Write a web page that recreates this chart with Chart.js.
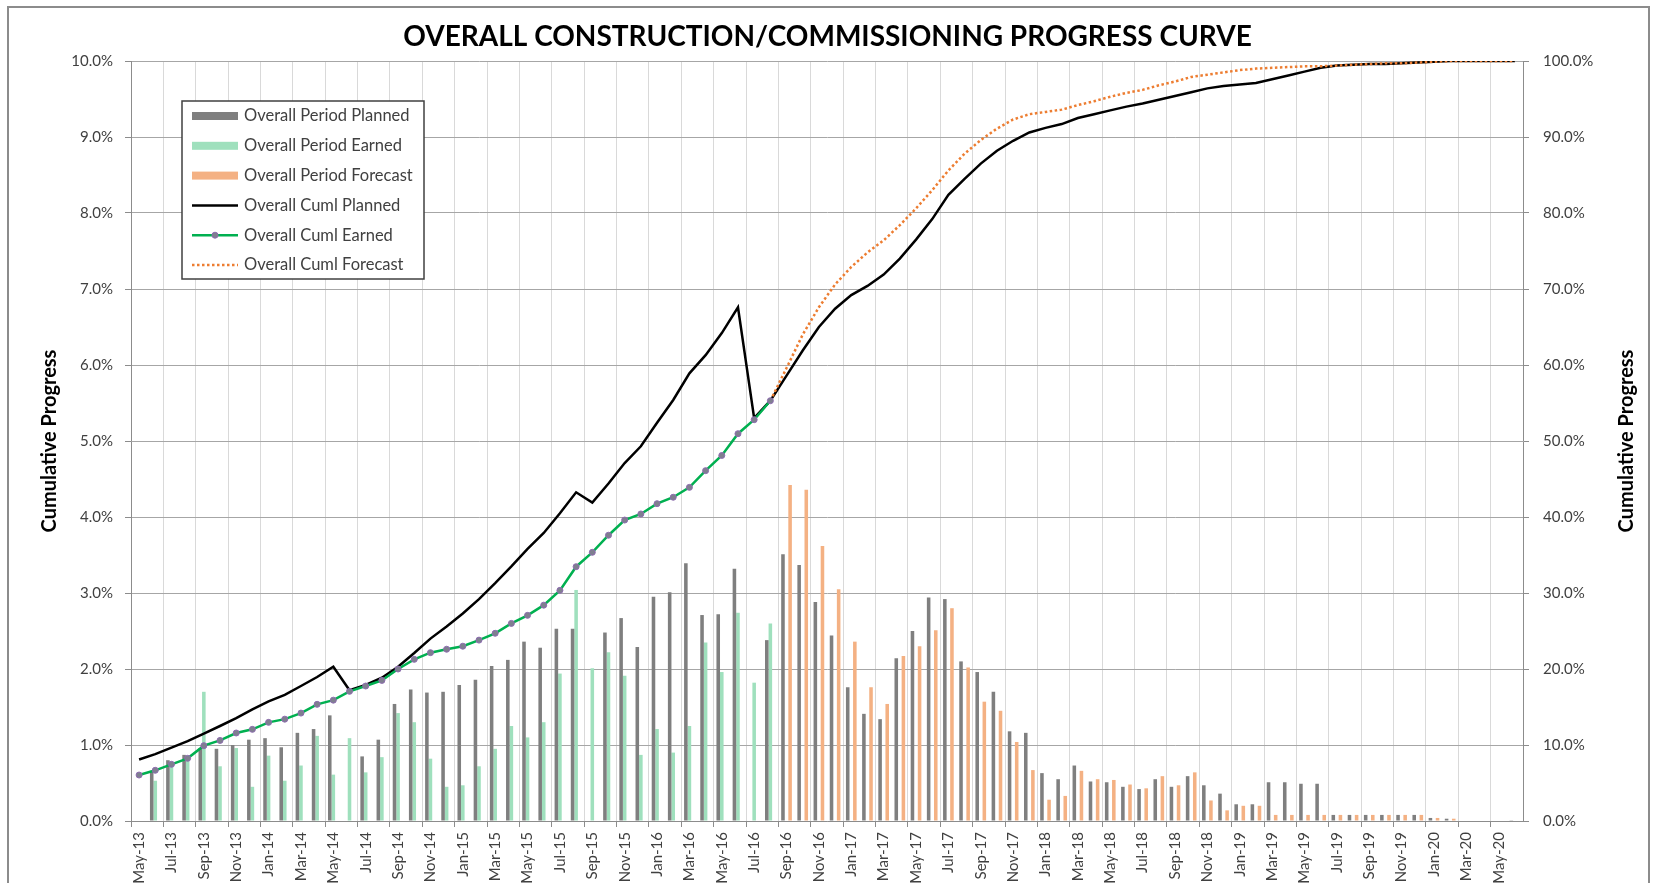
<!DOCTYPE html>
<html>
<head>
<meta charset="utf-8">
<title>Overall Construction/Commissioning Progress Curve</title>
<script src="https://cdn.jsdelivr.net/npm/chart.js@4.4.1/dist/chart.umd.min.js"></script>
<style>
  html, body { margin: 0; padding: 0; background: #fff; }
  #wrap { width: 1655px; height: 883px; }
</style>
</head>
<body>
<div id="wrap"><canvas id="progressChart" width="1655" height="883"></canvas></div>
<script>
// Months, May-13 .. Jun-20
const months = [
  'May-13', 'Jun-13', 'Jul-13', 'Aug-13', 'Sep-13', 'Oct-13', 'Nov-13', 'Dec-13',
  'Jan-14', 'Feb-14', 'Mar-14', 'Apr-14', 'May-14', 'Jun-14', 'Jul-14', 'Aug-14', 'Sep-14', 'Oct-14', 'Nov-14', 'Dec-14',
  'Jan-15', 'Feb-15', 'Mar-15', 'Apr-15', 'May-15', 'Jun-15', 'Jul-15', 'Aug-15', 'Sep-15', 'Oct-15', 'Nov-15', 'Dec-15',
  'Jan-16', 'Feb-16', 'Mar-16', 'Apr-16', 'May-16', 'Jun-16', 'Jul-16', 'Aug-16', 'Sep-16', 'Oct-16', 'Nov-16', 'Dec-16',
  'Jan-17', 'Feb-17', 'Mar-17', 'Apr-17', 'May-17', 'Jun-17', 'Jul-17', 'Aug-17', 'Sep-17', 'Oct-17', 'Nov-17', 'Dec-17',
  'Jan-18', 'Feb-18', 'Mar-18', 'Apr-18', 'May-18', 'Jun-18', 'Jul-18', 'Aug-18', 'Sep-18', 'Oct-18', 'Nov-18', 'Dec-18',
  'Jan-19', 'Feb-19', 'Mar-19', 'Apr-19', 'May-19', 'Jun-19', 'Jul-19', 'Aug-19', 'Sep-19', 'Oct-19', 'Nov-19', 'Dec-19',
  'Jan-20', 'Feb-20', 'Mar-20', 'Apr-20', 'May-20', 'Jun-20'
];

// Period values (left axis, %)
const periodPlanned = [
  null, 0.66, 0.80, 0.87, 0.96, 0.95, 1.00, 1.07,
  1.09, 0.97, 1.16, 1.21, 1.39, null, 0.85, 1.07, 1.54, 1.73, 1.69, 1.70,
  1.79, 1.86, 2.04, 2.12, 2.36, 2.28, 2.53, 2.53, null, 2.48, 2.67, 2.29,
  2.95, 3.01, 3.39, 2.71, 2.72, 3.32, null, 2.38, 3.51, 3.37, 2.88, 2.44,
  1.76, 1.41, 1.34, 2.14, 2.50, 2.94, 2.92, 2.10, 1.96, 1.70, 1.18, 1.16,
  0.63, 0.55, 0.73, 0.52, 0.51, 0.45, 0.42, 0.55, 0.45, 0.59, 0.47, 0.36,
  0.22, 0.22, 0.51, 0.51, 0.49, 0.49, 0.08, 0.08, 0.08, 0.08, 0.08, 0.08,
  0.04, 0.03, null, null, null, 0.01
];

const periodEarned = [
  null, 0.53, 0.75, 0.82, 1.70, 0.72, 0.96, 0.45,
  0.86, 0.53, 0.73, 1.12, 0.61, 1.09, 0.64, 0.84, 1.42, 1.30, 0.82, 0.45,
  0.47, 0.72, 0.95, 1.25, 1.10, 1.30, 1.94, 3.04, 2.01, 2.22, 1.91, 0.87,
  1.21, 0.90, 1.25, 2.35, 1.96, 2.74, 1.82, 2.60, null, null, null, null,
  null, null, null, null, null, null, null, null, null, null, null, null,
  null, null, null, null, null, null, null, null, null, null, null, null,
  null, null, null, null, null, null, null, null, null, null, null, null,
  null, null, null, null, null, null
];

const periodForecast = [
  null, null, null, null, null, null, null, null,
  null, null, null, null, null, null, null, null, null, null, null, null,
  null, null, null, null, null, null, null, null, null, null, null, null,
  null, null, null, null, null, null, null, null, 4.42, 4.36, 3.62, 3.05,
  2.36, 1.76, 1.54, 2.17, 2.30, 2.51, 2.80, 2.02, 1.57, 1.45, 1.04, 0.67,
  0.28, 0.33, 0.66, 0.55, 0.54, 0.48, 0.43, 0.59, 0.47, 0.64, 0.27, 0.14,
  0.20, 0.20, 0.08, 0.08, 0.08, 0.08, 0.08, 0.08, 0.08, 0.08, 0.08, 0.08,
  0.04, 0.03, null, null, null, null
];

// Cumulative values (right axis, %)
const cumPlanned = [
  8.1, 8.8, 9.65, 10.5, 11.5, 12.5, 13.55, 14.7,
  15.75, 16.6, 17.76, 18.95, 20.3, 17.2, 17.9, 18.86, 20.3, 22.1, 24.0, 25.6,
  27.3, 29.2, 31.3, 33.5, 35.8, 37.9, 40.5, 43.25, 41.9, 44.4, 47.1, 49.3,
  52.4, 55.4, 58.9, 61.3, 64.2, 67.6, 53.0, 55.3, 58.6, 61.9, 65.0, 67.4,
  69.2, 70.4, 71.9, 74.0, 76.5, 79.2, 82.4, 84.5, 86.5, 88.2, 89.5, 90.6,
  91.2, 91.7, 92.5, 93.0, 93.5, 94.0, 94.4, 94.9, 95.4, 95.9, 96.4, 96.7,
  96.9, 97.1, 97.6, 98.1, 98.6, 99.1, 99.4, 99.5, 99.6, 99.6, 99.7, 99.8,
  99.9, 100, 100, 100, 100, 100
];

const cumEarned = [
  6.05, 6.67, 7.46, 8.25, 9.91, 10.6, 11.58, 12.06,
  12.98, 13.4, 14.2, 15.35, 15.9, 17.06, 17.76, 18.5, 20.0, 21.27, 22.15, 22.6,
  23.0, 23.8, 24.7, 26.0, 27.06, 28.4, 30.35, 33.46, 35.35, 37.6, 39.6, 40.4,
  41.75, 42.6, 43.9, 46.1, 48.1, 50.96, 52.8, 55.3, null, null, null, null,
  null, null, null, null, null, null, null, null, null, null, null, null,
  null, null, null, null, null, null, null, null, null, null, null, null,
  null, null, null, null, null, null, null, null, null, null, null, null,
  null, null, null, null, null, null
];

const cumForecast = [
  null, null, null, null, null, null, null, null,
  null, null, null, null, null, null, null, null, null, null, null, null,
  null, null, null, null, null, null, null, null, null, null, null, null,
  null, null, null, null, null, null, null, 55.3, 59.6, 64.0, 67.6, 70.6,
  72.9, 74.8, 76.4, 78.4, 80.6, 83.0, 85.6, 87.8, 89.6, 91.1, 92.3, 93.0,
  93.3, 93.6, 94.2, 94.7, 95.3, 95.8, 96.2, 96.8, 97.3, 97.9, 98.2, 98.5,
  98.8, 99.0, 99.1, 99.2, 99.3, 99.3, 99.4, 99.5, 99.6, 99.7, 99.7, 99.8,
  99.9, 100, 100, 100, 100, 100
];

const leftTicks = [0, 1, 2, 3, 4, 5, 6, 7, 8, 9, 10];
const rightTicks = [0, 10, 20, 30, 40, 50, 60, 70, 80, 90, 100];

Chart.defaults.font.family = 'Lato';
Chart.defaults.color = '#404040';

// Legend box drawn inside the plot, like the Excel one
function drawLegend(chart) {
  const ctx = chart.ctx;
  const x = chart.chartArea.left + 51;
  const y = chart.chartArea.top + 40;
  const w = 242, h = 178, rowH = 29.8;

  ctx.save();
  ctx.fillStyle = '#ffffff';
  ctx.fillRect(x, y, w, h);
  ctx.strokeStyle = '#404040';
  ctx.lineWidth = 1.5;
  ctx.strokeRect(x, y, w, h);

  chart.data.datasets.forEach((ds, i) => {
    const cy = y + 15 + i * rowH;
    const sx = x + 10;
    if (ds.type === 'bar') {
      ctx.fillStyle = ds.backgroundColor;
      ctx.fillRect(sx, cy - 4, 46, 8);
    } else {
      ctx.strokeStyle = ds.borderColor;
      ctx.lineWidth = ds.borderWidth;
      ctx.setLineDash(ds.borderDash || []);
      ctx.beginPath();
      ctx.moveTo(sx, cy);
      ctx.lineTo(sx + 46, cy);
      ctx.stroke();
      ctx.setLineDash([]);
      if (ds.pointRadius) {
        ctx.beginPath();
        ctx.arc(sx + 23, cy, ds.pointRadius, 0, Math.PI * 2);
        ctx.fillStyle = ds.pointBackgroundColor;
        ctx.fill();
        ctx.lineWidth = 1;
        ctx.strokeStyle = ds.pointBorderColor;
        ctx.stroke();
      }
    }
    ctx.fillStyle = '#404040';
    ctx.font = '16.5px Lato';
    ctx.textAlign = 'left';
    ctx.textBaseline = 'middle';
    ctx.fillText(ds.label, x + 62, cy);
  });
  ctx.restore();
}

const frameAndLegend = {
  id: 'frameAndLegend',
  afterDraw(chart) {
    const ctx = chart.ctx;
    ctx.save();
    ctx.strokeStyle = '#8c8c8c';
    ctx.lineWidth = 2;
    ctx.strokeRect(8, 7, chart.width - 14, chart.height + 20);

    // right axis title reads bottom to top, same as the left one
    ctx.translate(chart.width - 28, (chart.chartArea.top + chart.chartArea.bottom) / 2);
    ctx.rotate(-Math.PI / 2);
    ctx.font = 'bold 20px Lato';
    ctx.fillStyle = '#000000';
    ctx.textAlign = 'center';
    ctx.textBaseline = 'middle';
    ctx.fillText('Cumulative Progress', 0, 0);
    ctx.restore();

    drawLegend(chart);
  }
};

const pct = (v) => v.toFixed(1) + '%';

const barStyle = { yAxisID: 'y', order: 5, categoryPercentage: 0.66, barPercentage: 1.0 };

const config = {
  type: 'bar',
  plugins: [frameAndLegend],
  data: {
    labels: months,
    datasets: [
      { ...barStyle, type: 'bar', label: 'Overall Period Planned', data: periodPlanned, backgroundColor: '#7f7f7f' },
      { ...barStyle, type: 'bar', label: 'Overall Period Earned', data: periodEarned, backgroundColor: '#9fe0bd' },
      { ...barStyle, type: 'bar', label: 'Overall Period Forecast', data: periodForecast, backgroundColor: '#f4b183' },
      {
        type: 'line',
        label: 'Overall Cuml Planned',
        data: cumPlanned,
        borderColor: '#000000',
        borderWidth: 2.5,
        pointRadius: 0,
        tension: 0,
        yAxisID: 'y1',
        order: 3,
      },
      {
        type: 'line',
        label: 'Overall Cuml Earned',
        data: cumEarned,
        borderColor: '#00b050',
        borderWidth: 2.5,
        pointRadius: 3,
        pointBackgroundColor: '#7f7f8f',
        pointBorderColor: '#8e6cb0',
        pointBorderWidth: 1,
        tension: 0,
        yAxisID: 'y1',
        order: 1,
      },
      {
        type: 'line',
        label: 'Overall Cuml Forecast',
        data: cumForecast,
        borderColor: '#ed7d31',
        borderWidth: 2.5,
        borderDash: [2.5, 2.5],
        borderCapStyle: 'butt',
        pointRadius: 0,
        tension: 0,
        yAxisID: 'y1',
        order: 2,
      },
    ],
  },
  options: {
    responsive: false,
    animation: false,
    layout: { padding: 0 },
    plugins: {
      legend: { display: false },
      tooltip: { enabled: false },
      title: {
        display: true,
        text: 'OVERALL CONSTRUCTION/COMMISSIONING PROGRESS CURVE',
        color: '#000000',
        font: { size: 28, weight: 'bold' },
        padding: { top: 20, bottom: 7.4 },
      },
    },
    scales: {
      x: {
        offset: true,
        grid: {
          offset: true,
          color: (c) => (c.index % 2 === 0 ? '#d9d9d9' : 'rgba(0,0,0,0)'),
          tickColor: (c) => (c.index % 2 === 0 ? '#8c8c8c' : 'rgba(0,0,0,0)'),
          borderDash: [3, 2],
          tickBorderDash: [],
          tickLength: 6,
        },
        border: { display: true, color: '#8c8c8c' },
        ticks: {
          autoSkip: false,
          maxRotation: 90,
          minRotation: 90,
          padding: 5,
          font: { size: 15 },
          color: '#404040',
          callback: function (value, index) {
            return index % 2 === 0 ? this.getLabelForValue(value) : '';
          },
        },
        afterFit: (scale) => { scale.height = 62; },
      },
      y: {
        position: 'left',
        min: 0,
        max: 10,
        afterBuildTicks: (scale) => { scale.ticks = leftTicks.map((v) => ({ value: v })); },
        grid: { color: '#a6a6a6', tickColor: '#8c8c8c', tickLength: 6 },
        border: { display: true, color: '#8c8c8c' },
        ticks: { padding: 12, font: { size: 15 }, color: '#404040', callback: pct },
        title: {
          display: true,
          text: 'Cumulative Progress',
          color: '#000000',
          font: { size: 20, weight: 'bold' },
          padding: { top: 38, bottom: 0 },
        },
        afterFit: (scale) => { scale.width = 131; },
      },
      y1: {
        position: 'right',
        min: 0,
        max: 100,
        afterBuildTicks: (scale) => { scale.ticks = rightTicks.map((v) => ({ value: v })); },
        grid: { drawOnChartArea: false, tickColor: '#8c8c8c', tickLength: 6 },
        border: { display: true, color: '#8c8c8c' },
        ticks: { padding: 14, font: { size: 15 }, color: '#404040', callback: pct },
        afterFit: (scale) => { scale.width = 132; },
      },
    },
  },
};

new Chart(document.getElementById('progressChart'), config);
</script>
</body>
</html>
